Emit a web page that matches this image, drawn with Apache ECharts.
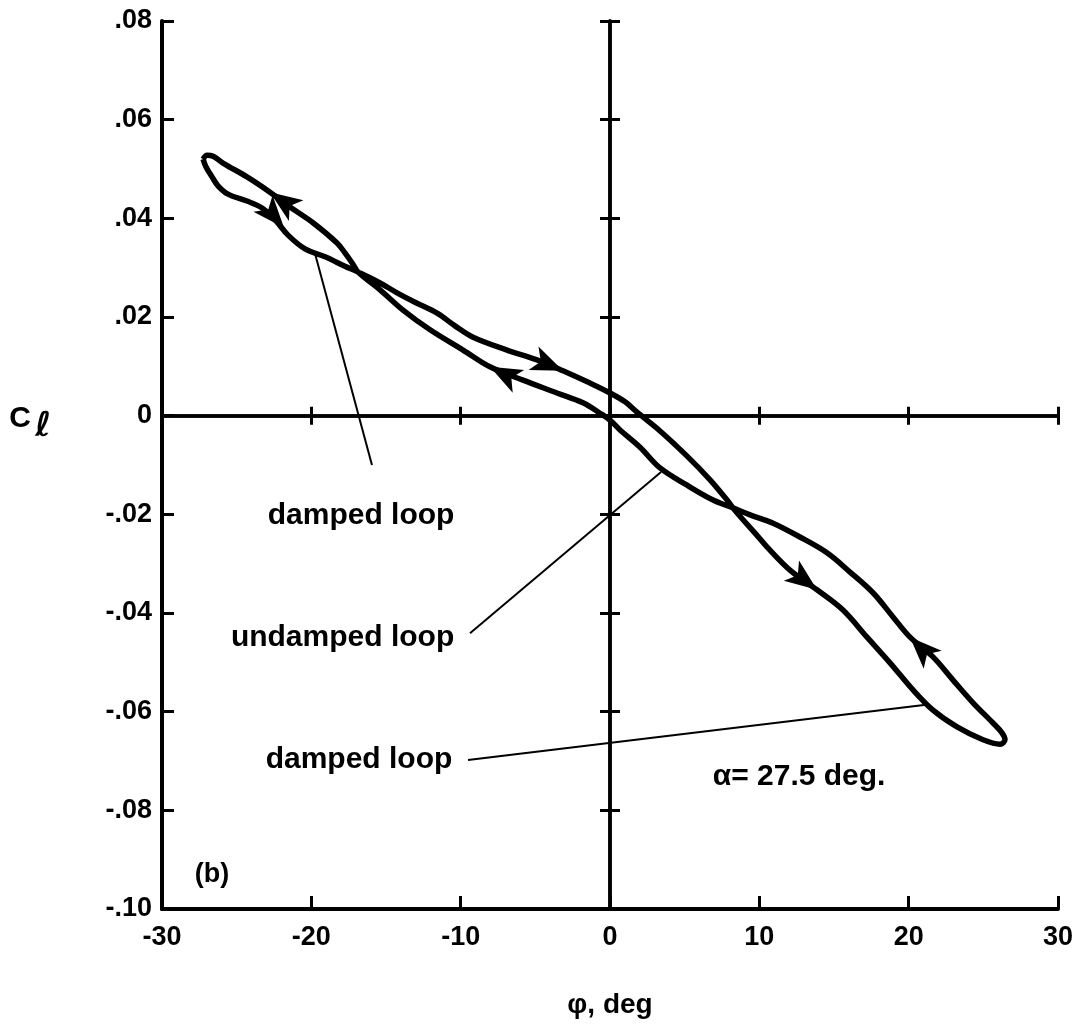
<!DOCTYPE html>
<html>
<head>
<meta charset="utf-8">
<script src="https://cdn.jsdelivr.net/npm/echarts@6/dist/echarts.min.js"></script>
<style>
html, body { margin: 0; padding: 0; background: #fff; }
#main { width: 1087px; height: 1026px; }
</style>
</head>
<body>
<div id="main"></div>
<script>
// axes
const xMin = -30, xMax = 30, xStep = 10;
const yMin = -0.1, yMax = 0.08, yStep = 0.02;
const xTickLabels = ['-30', '-20', '-10', '0', '10', '20', '30'];
const yTickLabels = ['-.10', '-.08', '-.06', '-.04', '-.02', '0', '.02', '.04', '.06', '.08'];

// the loop, traced in drawing order (left tip -> right tip -> back)
const loopPhi = [
    -27.25, -27.05, -26.65, -26.25, -25.58, -24.31, -23.30, -22.37, -21.56, -20.42, -19.08, -17.75, -16.87,
    -15.40, -14.26, -13.06, -11.58, -10.38, -9.17, -6.90, -4.89, -3.15, -1.34, 0.00, 1.01, 1.81, 3.35, 5.16, 6.70, 7.84, 8.24,
    8.91, 9.71, 10.51, 12.05, 13.86, 15.60, 17.21, 18.75, 20.29, 21.63, 23.24, 24.98, 26.12, 26.45,
    26.25, 25.65, 24.31, 22.97, 21.63, 20.09, 18.95, 17.61, 16.07, 14.53, 12.72, 10.92, 9.38, 8.24,
    6.90, 5.16, 3.35, 2.01, 0.67, 0.00, -0.67, -1.81, -3.55, -5.83, -8.04, -9.84, -12.05, -13.86, -15.40, -16.87,
    -17.21, -17.75, -18.28, -19.89, -21.43, -22.77, -24.31, -25.92, -26.58, -26.98, -27.25
];
const loopCl = [
    0.0520, 0.0504, 0.0484, 0.0466, 0.0449, 0.0435, 0.0421, 0.0395, 0.0366, 0.0338, 0.0322, 0.0303, 0.0291,
    0.0269, 0.0249, 0.0230, 0.0208, 0.0182, 0.0159, 0.0133, 0.0113, 0.0091, 0.0066, 0.0046, 0.0028, 0.0007, -0.0031, -0.0082, -0.0130, -0.0171, -0.0187,
    -0.0211, -0.0238, -0.0266, -0.0313, -0.0353, -0.0394, -0.0449, -0.0501, -0.0556, -0.0597, -0.0631, -0.0657, -0.0666, -0.0657,
    -0.0643, -0.0623, -0.0582, -0.0536, -0.0489, -0.0449, -0.0408, -0.0359, -0.0317, -0.0278, -0.0246, -0.0218, -0.0201, -0.0187,
    -0.0171, -0.0141, -0.0106, -0.0064, -0.0029, -0.0009, 0.0005, 0.0026, 0.0046, 0.0072, 0.0099, 0.0133, 0.0174, 0.0214, 0.0255, 0.0291,
    0.0307, 0.0330, 0.0350, 0.0391, 0.0423, 0.0453, 0.0484, 0.0512, 0.0526, 0.0528, 0.0520
];

// arrow heads on the loop
const arrowPhi = [-22.77, -21.83, -8.04, -3.15, 13.86, 20.09];
const arrowCl = [0.0453, 0.0381, 0.0099, 0.0091, -0.0353, -0.0449];
const arrowRotate = [55, 221, 63, 247, 233, 45];

// notes and their leader lines
const noteText = ['damped loop', 'undamped loop', 'damped loop', 'α= 27.5 deg.', '(b)'];
const notePhi = [-16.67, -17.91, -16.81, 12.66, -26.65];
const noteCl = [-0.0203, -0.0451, -0.0698, -0.0732, -0.0931];
const leaderFrom = [[-19.75, 0.0328], [3.42, -0.0114], [21.16, -0.0586]];
const leaderTo = [[-15.94, -0.0100], [-9.375, -0.0441], [-9.51, -0.0698]];

const FONT = '"Liberation Sans", Arial, sans-serif';
const INK = '#000';
const box = { left: 162, right: 29, top: 21, bottom: 117 };

function yLabel(v) {
    return yTickLabels[Math.round((v - yMin) / yStep)];
}
function xLabel(v) {
    return xTickLabels[Math.round((v - xMin) / xStep)];
}

const chart = echarts.init(document.getElementById('main'));

// grid 0: frame axes with labels; grids 1 and 2: the axes through the origin,
// one with ticks on each side
const xAxes = [];
const yAxes = [];
[0, 1, 2].forEach((g) => {
    const frame = g === 0;
    xAxes.push({
        gridIndex: g,
        type: 'value',
        min: xMin, max: xMax, interval: xStep,
        position: 'bottom',
        axisLine: { show: true, onZero: !frame, lineStyle: { color: INK, width: frame ? 4 : 3.5 } },
        axisTick: { show: true, inside: g !== 2, length: frame ? 13 : 9, lineStyle: { color: INK, width: 3 } },
        axisLabel: {
            show: frame, margin: 15, formatter: xLabel, color: INK,
            fontFamily: FONT, fontSize: 27, fontWeight: 'bold',
            showMinLabel: true, showMaxLabel: true
        },
        splitLine: { show: false },
        name: frame ? 'φ, deg' : '',
        nameLocation: 'middle',
        nameGap: 82,
        nameTextStyle: { color: INK, fontFamily: FONT, fontSize: 28, fontWeight: 'bold' }
    });
    yAxes.push({
        gridIndex: g,
        type: 'value',
        min: yMin, max: yMax, interval: yStep,
        position: 'left',
        axisLine: { show: true, onZero: !frame, lineStyle: { color: INK, width: frame ? 4 : 3.5 } },
        axisTick: { show: true, inside: g !== 2, length: frame ? 12 : 10, lineStyle: { color: INK, width: 3 } },
        axisLabel: {
            show: frame, margin: 10, formatter: yLabel, color: INK,
            fontFamily: FONT, fontSize: 27, fontWeight: 'bold',
            showMinLabel: true, showMaxLabel: true
        },
        splitLine: { show: false }
    });
});

chart.setOption({
    backgroundColor: '#fff',
    animation: false,
    grid: [box, box, box],
    xAxis: xAxes,
    yAxis: yAxes,
    graphic: [
        {
            type: 'text', x: 20, y: 419,
            style: { text: 'C', fill: INK, font: 'bold 30px "Liberation Sans", Arial, sans-serif', textAlign: 'center', textVerticalAlign: 'middle', align: 'center', verticalAlign: 'middle' }
        },
        {
            type: 'text', x: 43, y: 427,
            style: { text: 'ℓ', fill: INK, font: 'italic bold 34px "DejaVu Sans", sans-serif', textAlign: 'center', textVerticalAlign: 'middle', align: 'center', verticalAlign: 'middle' }
        }
    ],
    series: [
        {
            name: 'loop',
            type: 'line',
            xAxisIndex: 0, yAxisIndex: 0,
            data: loopPhi.map((p, i) => [p, loopCl[i]]),
            smooth: 0.35,
            showSymbol: false,
            symbol: 'none',
            lineStyle: { color: INK, width: 5.5 },
            z: 5,
            markLine: {
                silent: true,
                symbol: 'none',
                label: { show: false },
                lineStyle: { color: INK, width: 2, type: 'solid', opacity: 1 },
                data: leaderFrom.map((a, i) => [{ coord: a }, { coord: leaderTo[i] }])
            }
        },
        {
            name: 'arrows',
            type: 'scatter',
            xAxisIndex: 0, yAxisIndex: 0,
            symbol: 'arrow',
            symbolSize: [19, 32],
            itemStyle: { color: INK, opacity: 1 },
            z: 6,
            data: arrowPhi.map((p, i) => ({ value: [p, arrowCl[i]], symbolRotate: arrowRotate[i] }))
        },
        {
            name: 'notes',
            type: 'scatter',
            xAxisIndex: 0, yAxisIndex: 0,
            symbolSize: 1,
            itemStyle: { color: 'rgba(0,0,0,0)', opacity: 1 },
            label: {
                show: true, position: 'inside', formatter: '{b}', opacity: 1,
                color: INK, fontFamily: FONT, fontSize: 30, fontWeight: 'bold'
            },
            data: noteText.map((t, i) => ({
                name: t,
                value: [notePhi[i], noteCl[i]],
                label: i === 4 ? { fontSize: 27 } : {}
            }))
        }
    ]
});
</script>
</body>
</html>
